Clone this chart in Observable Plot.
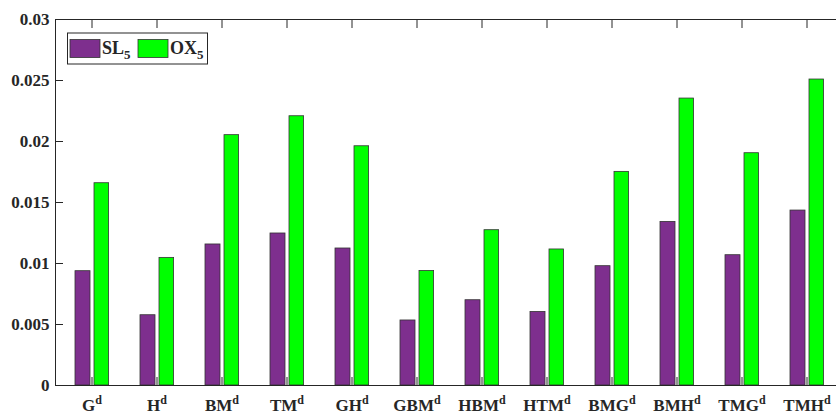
<!DOCTYPE html>
<html><head><meta charset="utf-8">
<script src="https://cdn.jsdelivr.net/npm/d3@7"></script>
<script src="https://cdn.jsdelivr.net/npm/@observablehq/plot@0.6"></script>
<style>
html,body{margin:0;padding:0;background:#fff;overflow:hidden}
#chart{width:836px;height:414px;overflow:hidden;position:relative}
#chart svg{max-width:none !important;font-family:"Liberation Serif","Times New Roman",serif !important;}
</style></head><body><div id="chart"></div>
<script>
const categories = ["G","H","BM","TM","GH","GBM","HBM","HTM","BMG","BMH","TMG","TMH"];
const sl5 = [0.00937,0.00576,0.01156,0.01246,0.01123,0.00533,0.00699,0.00603,0.00978,0.01341,0.01068,0.01434];
const ox5 = [0.01658,0.01046,0.02052,0.02207,0.01961,0.00939,0.01273,0.01115,0.01751,0.02352,0.01904,0.02508];
const yTicks = [0,0.005,0.01,0.015,0.02,0.025,0.03];
const seriesNames = ["SL","OX"];
const seriesSub = "5";
const colors = ["#7E2F8E","#00FF00"];

const data = categories.map((c,i)=>({category:c, sl:sl5[i], ox:ox5[i]}));
const ink = "#262626";
const font = '"Liberation Serif","Times New Roman",serif';

const plot = Plot.plot({
  width: 843, height: 414,
  marginLeft: 55, marginRight: 0, marginTop: 19, marginBottom: 29,
  style: {fontFamily: font, fontWeight: "bold", fontSize: "17px", color: ink, background: "#fff", overflow: "visible", maxWidth: "none"},
  x: {domain: categories, padding: 0, label: null},
  y: {domain: [0, 0.03], label: null},
  marks: [
    Plot.barY(data, {x: "category", y: "sl", fill: colors[0], stroke: "#333", strokeWidth: 0.8, insetLeft: 16, insetRight: 34}),
    Plot.barY(data, {x: "category", y: "ox", fill: colors[1], stroke: "#333", strokeWidth: 0.8, insetLeft: 35, insetRight: 15.4}),
    Plot.frame({stroke: ink}),
    Plot.axisY(yTicks, {anchor: "left", tickSize: 0, tickPadding: 6, label: null, tickFormat: d => String(d), fontSize: 17, fontFamily: font, fontWeight: "bold"}),
    Plot.axisY(yTicks, {anchor: "left", tickSize: 8, dx: 8, label: null, tickFormat: () => "", stroke: ink}),
    Plot.axisY(yTicks, {anchor: "right", tickSize: 8, dx: -8, label: null, tickFormat: () => "", stroke: ink}),
    Plot.axisX({anchor: "bottom", tickSize: 8, dy: -8, label: null, tickFormat: () => "", stroke: ink}),
    Plot.axisX({anchor: "top", tickSize: 8, dy: 8, label: null, tickFormat: () => "", stroke: ink}),
    Plot.axisX({anchor: "bottom", tickSize: 0, tickPadding: 13, label: null, fontSize: 17, fontFamily: font, fontWeight: "bold"})
  ]
});
plot.setAttribute("font-family", font);

// superscript "d" on category labels
d3.select(plot).selectAll('g[aria-label="x-axis tick label"] text').each(function() {
  const t = this.textContent;
  if (!t) return;
  const sel = d3.select(this);
  sel.text(null);
  sel.append("tspan").text(t);
  sel.append("tspan").attr("font-size", 12).attr("dy", "-0.55em").text("d");
});

// legend inside plot
const svg = d3.select(plot);
const lg = svg.append("g").attr("font-family", font).attr("font-weight", "bold").attr("fill", ink).attr("text-anchor", "start");
lg.append("rect").attr("x", 67.5).attr("y", 33).attr("width", 140).attr("height", 31)
  .attr("fill", "#fff").attr("stroke", ink).attr("stroke-width", 1);
const items = [{x: 70, name: seriesNames[0], color: colors[0]}, {x: 138, name: seriesNames[1], color: colors[1]}];
items.forEach(it => {
  lg.append("rect").attr("x", it.x).attr("y", 39.5).attr("width", 30).attr("height", 18)
    .attr("fill", it.color).attr("stroke", "#333").attr("stroke-width", 0.8);
  const tx = lg.append("text").attr("x", it.x + 32).attr("y", 54).attr("font-size", 18).attr("text-anchor", "start");
  tx.append("tspan").text(it.name);
  tx.append("tspan").attr("font-size", 13).attr("dy", "0.4em").text(seriesSub);
});

document.getElementById("chart").appendChild(plot);
</script></body></html>
